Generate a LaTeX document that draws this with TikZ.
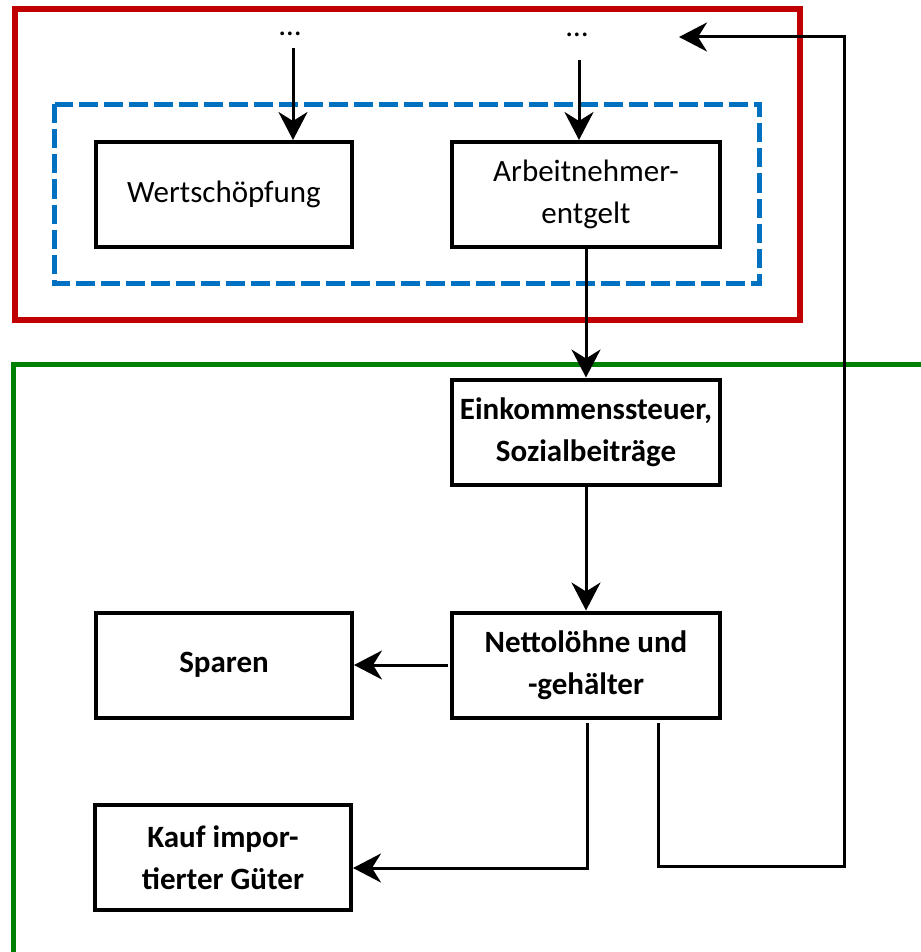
\documentclass[tikz,border=0pt]{standalone}
\usepackage{fontspec}
\setmainfont{Carlito}
\usetikzlibrary{arrows.meta}

\definecolor{rahmenrot}{HTML}{C00000}
\definecolor{rahmenblau}{HTML}{0070C0}
\definecolor{rahmengruen}{HTML}{008000}

\tikzset{
    kasten/.style={rectangle, draw, line width=4pt, minimum width=256pt, minimum height=105pt, align=center, inner sep=0pt, font=\fontsize{31}{42}\selectfont},
    breitkasten/.style={kasten, minimum width=268pt},
    fluss/.style={line width=3pt, -{Stealth[length=28pt, width=29pt, inset=9pt]}},
    linie/.style={line width=3pt}
}

\begin{document}
\begin{tikzpicture}[x=1pt, y=-1pt]
    \useasboundingbox (0,0) rectangle (920,952);

    % 枠を描画
    \draw[rahmenrot, line width=6pt] (14.5,9) rectangle (800,320);
    \draw[rahmenblau, line width=5pt, dash pattern=on 19pt off 6pt] (54.5,104.5) rectangle (759.5,283.5);
    \draw[rahmengruen, line width=5pt] (13.5,960) -- (13.5,364.5) -- (925,364.5);

    % ノードを描画
    \node[anchor=base, inner sep=0pt, font=\fontsize{31}{42}\selectfont] (P1) at (290,36) {…};
    \node[anchor=base, inner sep=0pt, font=\fontsize{31}{42}\selectfont] (P2) at (577,37) {…};
    \node[kasten] (W) at (224,194.5) {Wertschöpfung};
    \node[breitkasten] (A) at (586,194.5) {Arbeitnehmer-\\entgelt};
    \node[breitkasten, font=\bfseries\fontsize{31}{42}\selectfont] (E) at (586,432) {Einkommenssteuer,\\Sozialbeiträge};
    \node[breitkasten, font=\bfseries\fontsize{31}{42}\selectfont] (N) at (586,665) {Nettolöhne und\\-gehälter};
    \node[kasten, font=\bfseries\fontsize{31}{42}\selectfont] (S) at (224,665) {Sparen};
    \node[kasten, font=\bfseries\fontsize{31}{42}\selectfont] (K) at (223,857.5) {Kauf impor-\\tierter Güter};

    % 補助座標
    \coordinate (q1) at (293,48);
    \coordinate (q2) at (579,60);
    \coordinate (n1) at (587,723);
    \coordinate (n2) at (658,723);
    \coordinate (k1) at (587,868);
    \coordinate (r1) at (844,866);
    \coordinate (z1) at (679,37);

    % エッジを描画
    \draw[fluss] (q1) -- (q1 |- W.north);
    \draw[fluss] (q2) -- (q2 |- A.north);
    \draw[fluss] (A.south) -- (E.north);
    \draw[fluss] (E.south) -- (N.north);
    \draw[fluss] ([xshift=-2pt]N.west) -- (S.east);
    \draw[fluss] (n1) -- (k1) -- (k1 -| K.east);
    \draw[fluss] (n2) |- (r1) |- (z1);
\end{tikzpicture}
\end{document}
